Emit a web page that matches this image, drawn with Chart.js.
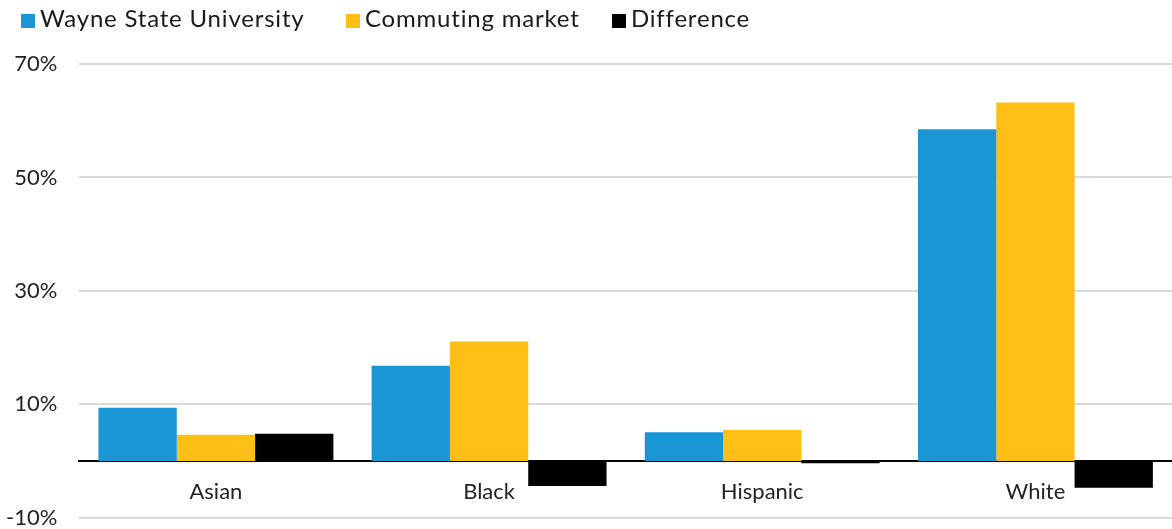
<!DOCTYPE html>
<html>
<head>
<meta charset="utf-8">
<script src="https://cdn.jsdelivr.net/npm/chart.js@4/dist/chart.umd.min.js"></script>
<style>
  html, body { margin: 0; padding: 0; background: #fff; overflow: hidden; }
  /* canvas runs a little past the window so the x labels (kept at zero) don't eat plot height */
  #wrap { width: 1172px; height: 553px; position: relative; }
  #legend { position: absolute; left: 0; top: 0; width: 1172px; height: 40px;
            font-family: Lato, "Open Sans", sans-serif; font-size: 24px; letter-spacing: 0.8px; color: #1a1a1a; }
  #legend .item { position: absolute; top: 4px; white-space: nowrap; line-height: 28px; }
  #legend .box { display: inline-block; width: 14px; height: 14px; margin-right: 5px; vertical-align: -1px; }
</style>
</head>
<body>
<div id="wrap">
  <canvas id="chart"></canvas>
  <div id="legend"></div>
</div>
<script>
const categories = ['Asian', 'Black', 'Hispanic', 'White'];
const wayneState = [9.4, 16.8, 5.1, 58.5];
const commuting = [4.65, 21.1, 5.5, 63.2];
const difference = [4.8, -4.4, -0.4, -4.7];
const yTicks = [-10, 10, 30, 50, 70];

const seriesNames = ['Wayne State University', 'Commuting market', 'Difference'];
const seriesColors = ['#1a96d4', '#fdbf15', '#000000'];
const legendLeft = [21, 346, 612];

const FONT = 'Lato, "Open Sans", sans-serif';

const chart = new Chart(document.getElementById('chart'), {
  type: 'bar',
  data: {
    labels: categories,
    datasets: [
      { label: seriesNames[0], data: wayneState, backgroundColor: seriesColors[0] },
      { label: seriesNames[1], data: commuting, backgroundColor: seriesColors[1] },
      { label: seriesNames[2], data: difference, backgroundColor: seriesColors[2] },
    ],
  },
  options: {
    responsive: true,
    maintainAspectRatio: false,
    animation: false,
    layout: { padding: { left: -16, right: 0, top: 64, bottom: 6 } },
    datasets: { bar: { categoryPercentage: 0.86, barPercentage: 1.0 } },
    plugins: {
      legend: { display: false },
      tooltip: { enabled: false },
    },
    scales: {
      x: {
        position: { y: 0 },
        grid: { display: false, drawTicks: false },
        border: { display: true, color: '#000', width: 2 },
        ticks: { color: '#222', padding: 18, font: { family: FONT, size: 22 } },
      },
      y: {
        min: -10,
        max: 70,
        afterBuildTicks: (axis) => { axis.ticks = yTicks.map((v) => ({ value: v })); },
        grid: { color: '#d9d9d9', lineWidth: 2, drawTicks: false },
        border: { display: false },
        ticks: {
          color: '#222',
          padding: 22,
          font: { family: FONT, size: 22 },
          callback: (v) => v + '%',
        },
      },
    },
  },
});

// legend drawn as html so the box/text spacing matches the original
const legend = document.getElementById('legend');
chart.data.datasets.forEach((ds, i) => {
  const item = document.createElement('span');
  item.className = 'item';
  item.style.left = legendLeft[i] + 'px';
  item.innerHTML = `<span class="box" style="background:${ds.backgroundColor}"></span>${ds.label}`;
  legend.appendChild(item);
});
</script>
</body>
</html>
